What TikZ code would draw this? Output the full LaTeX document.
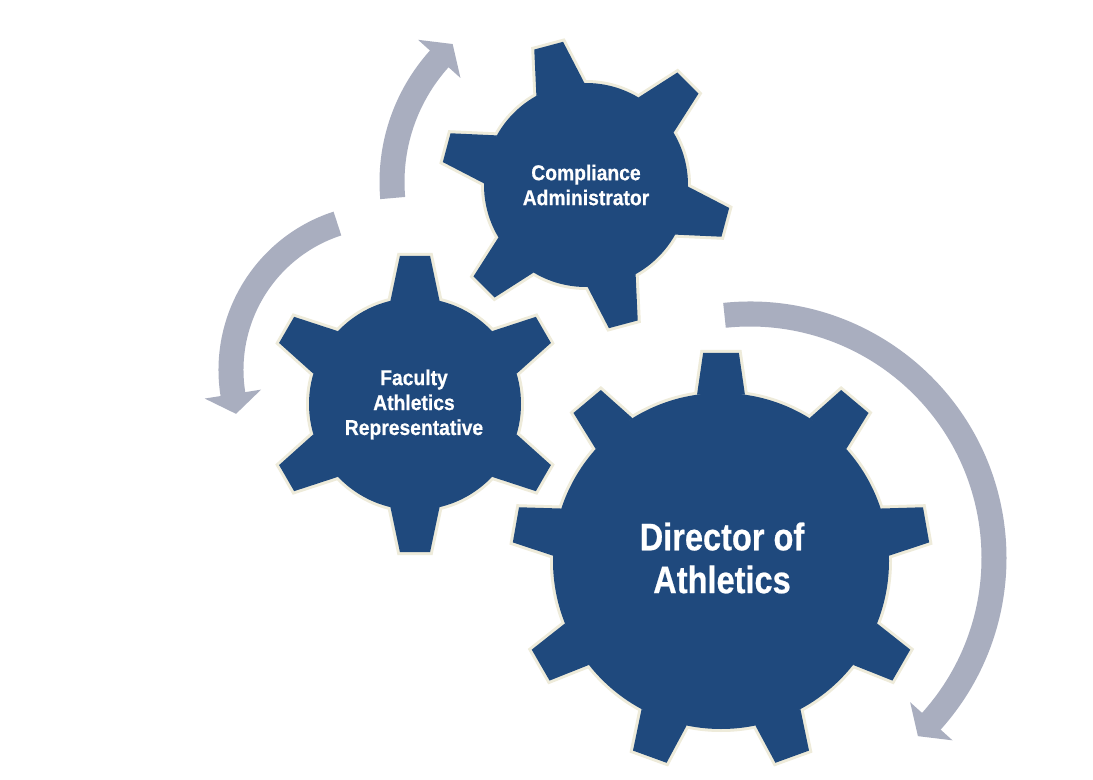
\documentclass[tikz,border=0pt]{standalone}
\usepackage{fontspec}
\newfontfamily\smallgearfont{Liberation Sans}[FakeStretch=0.9, BoldFeatures={FakeBold=0.6}]
\newfontfamily\biggearfont{Liberation Sans}[FakeStretch=0.85, BoldFeatures={FakeBold=0.6}]
\definecolor{gearblue}{HTML}{1F497D}
\definecolor{gearedge}{HTML}{EEEBDA}
\definecolor{arrowgray}{HTML}{A9AEBF}
\tikzset{
  gearrim/.style={draw=gearedge, line width=0.12cm, line join=miter},
  gearbody/.style={fill=gearblue},
  turnarrow/.style={fill=arrowgray},
  smalllabel/.style={text=white, align=center, inner sep=0pt,
     font=\smallgearfont\bfseries\fontsize{12.2}{14.2}\selectfont},
  biglabel/.style={text=white, align=center, inner sep=0pt,
     font=\biggearfont\bfseries\fontsize{21.8}{24.4}\selectfont},
}
% #1,#2 centre; #3 body radius; #4 tip radius; #5 teeth; #6 first tooth angle; #7 base half-angle; #8 tip half-angle
\newcommand{\drawgear}[8]{%
  \begin{scope}[shift={(#1,#2)}]
    \foreach \k in {1,...,#5}{%
      \pgfmathsetmacro{\ang}{#6+360/#5*(\k-1)}%
      \draw[gearrim] ({\ang-#7}:#3) -- ({\ang-#8}:#4) -- ({\ang+#8}:#4) -- ({\ang+#7}:#3) -- cycle;
    }
    \draw[gearrim] (0,0) circle[radius=#3];
    \foreach \k in {1,...,#5}{%
      \pgfmathsetmacro{\ang}{#6+360/#5*(\k-1)}%
      \fill[gearbody] ({\ang-#7}:#3) -- ({\ang-#8}:#4) -- ({\ang+#8}:#4) -- ({\ang+#7}:#3) -- cycle;
    }
    \fill[gearbody] (0,0) circle[radius=#3];
  \end{scope}}
% #1 centre name; #2 radius; #3 start angle; #4 end angle; #5 tip angle; #6 tip radius
\newcommand{\turnarrowpath}[6]{%
  \begin{scope}[shift={(#1)}]
    \fill[turnarrow] (#3:#2+12.5) arc[start angle=#3, end angle=#4, radius=#2+12.5]
      -- (#4:#2+28.5) -- (#5:#6) -- (#4:#2-28.5) -- (#4:#2-12.5)
      arc[start angle=#4, end angle=#3, radius=#2-12.5] -- cycle;
  \end{scope}}
\begin{document}
\begin{tikzpicture}[x=0.02cm, y=0.02cm]
  \useasboundingbox (0,0) rectangle (1093,779);
  \fill[white] (0,0) rectangle (1093,779);
  % arrow centres
  \coordinate (arcA) at (750,221);
  \coordinate (arcB) at (385,409);
  \coordinate (arcC) at (576,597);
  \turnarrowpath{arcA}{244}{96}{-42}{-46.69}{244.82}
  \turnarrowpath{arcB}{154}{108}{189}{196.40}{155.29}
  \turnarrowpath{arcC}{184}{185}{138}{131.80}{185.08}
  % gears
  \drawgear{586}{594}{102}{145}{6}{105}{14.1}{5.9}
  \drawgear{415}{375}{106}{149}{6}{90}{13.4}{5.8}
  \drawgear{721}{218}{168}{209}{9}{90}{8.2}{4.9}
  % labels
  \node[smalllabel] (ca) at (586,594) {Compliance\\Administrator};
  \node[smalllabel] (far) at (414,374.5) {Faculty\\Athletics\\Representative};
  \node[biglabel] (doa) at (722,221) {Director of\\Athletics};
\end{tikzpicture}
\end{document}
